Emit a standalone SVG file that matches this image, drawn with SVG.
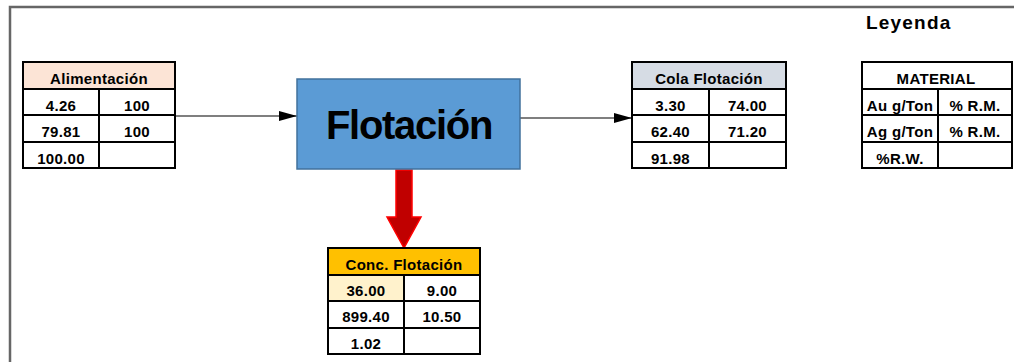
<svg xmlns="http://www.w3.org/2000/svg" width="1014" height="362" viewBox="0 0 1014 362">
<defs>
<style>
.t{font-family:"Liberation Sans",Arial,sans-serif;font-weight:bold;font-size:15px;letter-spacing:0.3px;fill:#000;text-anchor:middle}
.g{fill:none;stroke:#000;stroke-width:2}
.c{fill:#fff;stroke:#000;stroke-width:2}
.ln{stroke:#000;stroke-width:1.2;fill:none}
</style>
<marker id="ah" viewBox="0 0 18 10" refX="18" refY="5" markerWidth="18" markerHeight="10" markerUnits="userSpaceOnUse" orient="auto">
<path d="M0,0 L18,5 L0,10 Z" fill="#000"/>
</marker>
</defs>
<rect x="0" y="0" width="1014" height="362" fill="#fff"/>
<path d="M10,362 V7 H1014" fill="none" stroke="#666" stroke-width="2.5"/>
<text x="866" y="29" style="font-family:'Liberation Sans',Arial,sans-serif;font-weight:bold;font-size:19px;letter-spacing:1.2px">Leyenda</text>

<g id="connectors">
<line class="ln" x1="175" y1="116" x2="297" y2="116" marker-end="url(#ah)"/>
<line class="ln" x1="520" y1="118" x2="632" y2="118" marker-end="url(#ah)"/>
<path d="M396,170 H412 V217 H421 L404,248 L387,217 H396 Z" fill="#c00000" stroke="#ff0000" stroke-width="1.5"/>
</g>

<g id="flotacion">
<rect x="297" y="79" width="223" height="90" fill="#5b9bd5" stroke="#41719c" stroke-width="1.5"/>
<text x="409" y="139" style="font-family:'Liberation Sans',Arial,sans-serif;font-weight:bold;font-size:40px;letter-spacing:-1.3px;text-anchor:middle">Flotación</text>
</g>

<g id="alimentacion">
<rect x="23" y="62" width="152" height="27" fill="#fce4d6" stroke="#000" stroke-width="2"/>
<rect class="c" x="23" y="89" width="152" height="79"/>
<path class="g" d="M23,115 H175 M23,142 H175 M99,89 V168"/>
<text class="t" x="99" y="84">Alimentación</text>
<text class="t" x="61" y="111">4.26</text><text class="t" x="137" y="111">100</text>
<text class="t" x="61" y="137">79.81</text><text class="t" x="137" y="137">100</text>
<text class="t" x="61" y="164">100.00</text>
</g>

<g id="cola">
<rect x="632" y="62" width="154" height="27" fill="#d6dce4" stroke="#000" stroke-width="2"/>
<rect class="c" x="632" y="89" width="154" height="79"/>
<path class="g" d="M632,115 H786 M632,142 H786 M709,89 V168"/>
<text class="t" x="709" y="84">Cola Flotación</text>
<text class="t" x="670.5" y="111">3.30</text><text class="t" x="747.5" y="111">74.00</text>
<text class="t" x="670.5" y="137">62.40</text><text class="t" x="747.5" y="137">71.20</text>
<text class="t" x="670.5" y="164">91.98</text>
</g>

<g id="leyenda">
<rect x="862" y="62" width="150" height="27" fill="#fff" stroke="#000" stroke-width="2"/>
<rect class="c" x="862" y="89" width="150" height="79"/>
<path class="g" d="M862,115 H1012 M862,142 H1012 M938,89 V168"/>
<text class="t" x="936" y="84">MATERIAL</text>
<text class="t" x="900" y="111">Au g/Ton</text><text class="t" x="975" y="111">% R.M.</text>
<text class="t" x="900" y="137">Ag g/Ton</text><text class="t" x="975" y="137">% R.M.</text>
<text class="t" x="900" y="164">%R.W.</text>
</g>

<g id="concentrado">
<rect x="328" y="248" width="152" height="27" fill="#ffc000" stroke="#000" stroke-width="2"/>
<rect class="c" x="328" y="275" width="152" height="79"/>
<rect x="329" y="276" width="75" height="25" fill="#fff2cc"/>
<path class="g" d="M328,301 H480 M328,328 H480 M404,275 V354"/>
<text class="t" x="404" y="270">Conc. Flotación</text>
<text class="t" x="366" y="296">36.00</text><text class="t" x="442" y="296">9.00</text>
<text class="t" x="366" y="322">899.40</text><text class="t" x="442" y="322">10.50</text>
<text class="t" x="366" y="349">1.02</text>
</g>
</svg>
